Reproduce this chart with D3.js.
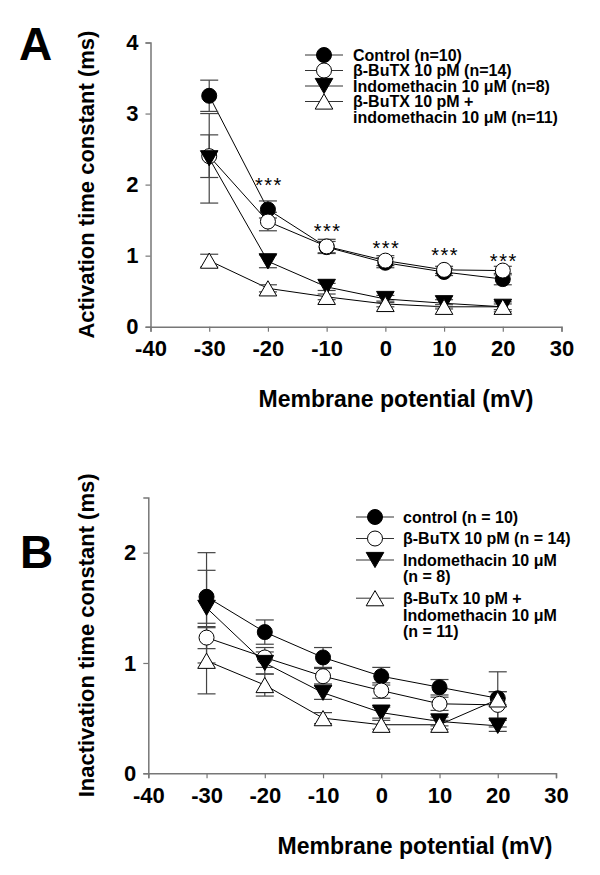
<!DOCTYPE html>
<html><head><meta charset="utf-8">
<script src="https://cdn.jsdelivr.net/npm/d3@7"></script>
<style>body{margin:0;background:#fff}svg{display:block;font-family:"Liberation Sans",Arial,sans-serif}</style>
</head><body>
<script>
// ---- data ----
const voltages = [-30, -20, -10, 0, 10, 20];
const xTicks = [-40, -30, -20, -10, 0, 10, 20, 30];
const yTicksA = [0, 1, 2, 3, 4];
const yTicksB = [0, 1, 2];

const actControl = [3.25, 1.65, 1.12, 0.90, 0.77, 0.67];
const actControlErr = [0.22, 0.12, 0.08, 0.07, 0.05, 0.08];
const actButx = [2.40, 1.48, 1.13, 0.93, 0.80, 0.79];
const actButxErr = [0.30, 0.13, 0.10, 0.07, 0.05, 0.06];
const actIndo = [2.37, 0.92, 0.56, 0.39, 0.33, 0.28];
const actIndoErr = [0.63, 0.09, 0.05, 0.05, 0.05, 0.07];
const actCombo = [0.93, 0.54, 0.42, 0.32, 0.28, 0.28];
const actComboErr = [0.09, 0.05, 0.04, 0.04, 0.03, 0.04];
const starVoltages = [-20, -10, 0, 10, 20];
const starLevels = [2.05, 1.41, 1.16, 1.07, 0.98];

const inactControl = [1.60, 1.28, 1.05, 0.88, 0.78, 0.68];
const inactControlErr = [0.24, 0.11, 0.09, 0.08, 0.07, 0.06];
const inactButx = [1.23, 1.05, 0.88, 0.75, 0.63, 0.62];
const inactButxErr = [0.10, 0.09, 0.07, 0.07, 0.06, 0.12];
const inactIndo = [1.50, 1.00, 0.73, 0.55, 0.47, 0.43];
const inactIndoErr = [0.50, 0.10, 0.06, 0.05, 0.04, 0.05];
const inactCombo = [1.02, 0.80, 0.50, 0.44, 0.44, 0.67];
const inactComboErr = [0.30, 0.10, 0.05, 0.04, 0.04, 0.25];

const markerTypes = ["filledCircle", "openCircle", "filledDown", "openUp"];
const legendA = [["Control (n=10)"], ["β-BuTX 10 pM (n=14)"], ["Indomethacin 10 μM (n=8)"], ["β-BuTX 10 pM +", "indomethacin 10 μM (n=11)"]];
const legendB = [["control (n = 10)"], ["β-BuTX 10 pM (n = 14)"], ["Indomethacin 10 μM", "(n = 8)"], ["β-BuTx 10 pM +", "Indomethacin 10 μM", "(n = 11)"]];

// ---- drawing ----
const svg = d3.select("body").append("svg").attr("width", 600).attr("height", 875);
const AXIS = "#777", ERR = "#444";

function markerPath(type, r) {
  const h = r * 1.9, w = r * 2.2;
  if (type === "filledDown") return `M${-w/2},${-h/2}L${w/2},${-h/2}L0,${h/2}Z`;
  return `M${-w/2},${h/2}L${w/2},${h/2}L0,${-h/2}Z`;
}
function drawMarker(g, type, x, y) {
  const r = 7.5;
  const fill = type.startsWith("filled") ? "#000" : "#fff";
  if (type.endsWith("Circle")) {
    g.append("circle").attr("cx", x).attr("cy", y).attr("r", r).attr("fill", fill).attr("stroke", "#000").attr("stroke-width", 1);
  } else {
    g.append("path").attr("d", markerPath(type, 8)).attr("transform", `translate(${x},${y})`).attr("fill", fill).attr("stroke", "#000").attr("stroke-width", 1);
  }
}

function panel(cfg) {
  const g = svg.append("g");
  const x = d3.scaleLinear().domain([-40, 30]).range(cfg.xr);
  const y = d3.scaleLinear().domain(cfg.yd).range(cfg.yr);
  const fmt = d => String(d);
  const xa = g.append("g").attr("transform", `translate(0,${cfg.yr[0]})`)
    .call(d3.axisBottom(x).tickValues(xTicks).tickSize(5).tickPadding(9).tickFormat(fmt));
  const ya = g.append("g").attr("transform", `translate(${cfg.xr[0]},0)`)
    .call(d3.axisLeft(y).tickValues(cfg.yticks).tickSize(5).tickPadding(7).tickFormat(fmt));
  [xa, ya].forEach(a => {
    a.select(".domain").attr("stroke", AXIS).attr("stroke-width", 1.5);
    a.selectAll(".tick line").attr("stroke", AXIS).attr("stroke-width", 1.2);
    a.selectAll("text").attr("fill", "#000").attr("font-size", 22).attr("font-weight", "bold")
      .attr("font-family", '"Liberation Sans",Arial,sans-serif');
  });
  xa.selectAll("text").attr("dy", "0.71em");
  g.append("text").attr("x", cfg.xTitleX).attr("y", cfg.xTitleY).attr("text-anchor", "middle")
    .attr("font-size", 23).attr("font-weight", "bold").text("Membrane potential (mV)");
  const yc = (cfg.yr[0] + cfg.yr[1]) / 2;
  g.append("text").attr("transform", `translate(${cfg.yTitleX},${yc}) rotate(-90)`).attr("text-anchor", "middle")
    .attr("font-size", 22).attr("font-weight", "bold").text(cfg.yTitle);
  g.append("text").attr("x", cfg.letterX).attr("y", cfg.letterY).attr("font-size", 46).attr("font-weight", "bold").text(cfg.letter);

  const line = d3.line().x(d => x(d.v)).y(d => y(d.m));
  cfg.series.forEach(s => {
    const pts = voltages.map((v, j) => ({ v, m: s.mean[j] }));
    g.append("path").datum(pts).attr("d", line).attr("fill", "none").attr("stroke", "#000").attr("stroke-width", 1);
  });
  cfg.series.forEach(s => {
    voltages.forEach((v, j) => {
      const cx = x(v), y1 = y(s.mean[j] + s.err[j]), y2 = y(s.mean[j] - s.err[j]), cw = 9;
      g.append("line").attr("x1", cx).attr("x2", cx).attr("y1", y1).attr("y2", y2).attr("stroke", ERR).attr("stroke-width", 1.2);
      [y1, y2].forEach(yy => g.append("line").attr("x1", cx - cw).attr("x2", cx + cw).attr("y1", yy).attr("y2", yy).attr("stroke", ERR).attr("stroke-width", 1.2));
    });
  });
  cfg.series.forEach((s, i) => {
    voltages.forEach((v, j) => drawMarker(g, markerTypes[i], x(v), y(s.mean[j])));
  });
  let ly = cfg.legY;
  cfg.legend.forEach((lines, i) => {
    g.append("line").attr("x1", cfg.legX - 19).attr("x2", cfg.legX + 19).attr("y1", ly).attr("y2", ly).attr("stroke", "#333").attr("stroke-width", 1);
    drawMarker(g, markerTypes[i], cfg.legX, ly);
    lines.forEach((t, k) => {
      g.append("text").attr("x", cfg.legTextX).attr("y", ly + k * cfg.legLine + 5.7)
        .attr("font-size", 16).attr("font-weight", "bold").text(t);
    });
    ly += (lines.length - 1) * cfg.legLine + cfg.legGap;
  });
  return { x, y, g };
}

const A = panel({
  xr: [150.5, 561.5], yd: [0, 4], yr: [326.7, 42.5], yticks: yTicksA,
  xTitleX: 396, xTitleY: 407, yTitleX: 94, yTitle: "Activation time constant (ms)",
  letter: "A", letterX: 19, letterY: 60,
  series: [
    { mean: actControl, err: actControlErr },
    { mean: actButx, err: actButxErr },
    { mean: actIndo, err: actIndoErr },
    { mean: actCombo, err: actComboErr }
  ],
  legend: legendA, legX: 324, legTextX: 353, legY: 55, legLine: 15.5, legGap: 15.5
});
starVoltages.forEach((v, i) => {
  A.g.append("text").attr("x", A.x(v) + 1).attr("y", A.y(starLevels[i]) + 11)
    .attr("text-anchor", "middle").attr("font-size", 20).attr("letter-spacing", 1.5).text("***");
});

panel({
  xr: [148.3, 556], yd: [0, 2.5], yr: [773.3, 497.5], yticks: yTicksB,
  xTitleX: 415, xTitleY: 854, yTitleX: 94, yTitle: "Inactivation time constant (ms)",
  letter: "B", letterX: 20, letterY: 568,
  series: [
    { mean: inactControl, err: inactControlErr },
    { mean: inactButx, err: inactButxErr },
    { mean: inactIndo, err: inactIndoErr },
    { mean: inactCombo, err: inactComboErr }
  ],
  legend: legendB, legX: 375, legTextX: 403, legY: 517, legLine: 16.7, legGap: 21.5
});
</script>
</body></html>
